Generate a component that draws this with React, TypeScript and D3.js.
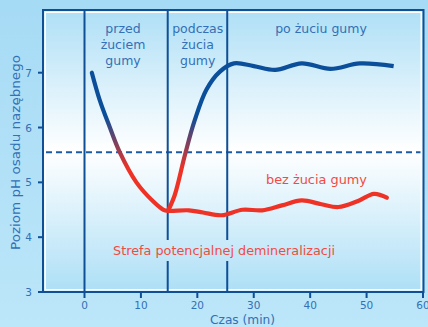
import React from 'react';
import * as d3 from 'd3';

const xTicks = [0, 10, 20, 30, 40, 50, 60];
const yTicks = [3, 4, 5, 6, 7];
const phaseLines = [0, 14.75, 25.3];
const criticalPH = 5.55;
const descentT = [1.3, 2.7, 4.5, 6.2, 9.2, 12.2, 14, 14.8];
const descentPH = [7.0, 6.5, 6.0, 5.56, 5.0, 4.65, 4.5, 4.48];
const noGumT = [18.5, 21, 24.3, 28, 31.5, 35, 38.5, 42, 45, 48.5, 51.3, 53.6];
const noGumPH = [4.49, 4.45, 4.4, 4.5, 4.49, 4.58, 4.67, 4.6, 4.55, 4.66, 4.79, 4.72];
const gumT = [14.8, 16, 17.8, 19.5, 21.6, 24, 26.5, 30, 33.8, 38.5, 43.6, 48.8, 54.8];
const gumPH = [4.48, 4.77, 5.5, 6.12, 6.69, 7.02, 7.17, 7.12, 7.05, 7.17, 7.07, 7.17, 7.12];
const phaseLabels = [["przed", "żuciem", "gumy"], ["podczas", "żucia", "gumy"], ["po żuciu gumy"]];
const noGumLabel = "bez żucia gumy";
const zoneLabel = "Strefa potencjalnej demineralizacji";
const xTitle = "Czas (min)";
const yTitle = "Poziom pH osadu nazębnego";

const W = 428, H = 327;
const L = 43, R = 423.5, T = 10, B = 292;
const FONT = "'DejaVu Sans', 'Noto Sans', sans-serif";
const BLUE = '#0e4f96';
const TXT = '#3370b5';
const RED = '#ee3226';
const RED_TXT = '#f24b40';

export default function App() {
  const x = d3.scaleLinear().domain([0, 60]).range([84.5, 423]);
  const y = d3.scaleLinear().domain([3, 7]).range([292, 72.7]);
  const line = d3.line<[number, number]>().x(d => x(d[0])).y(d => y(d[1])).curve(d3.curveCatmullRom.alpha(0.5));

  const redPts: [number, number][] = [
    ...descentT.map((t, i) => [t, descentPH[i]] as [number, number]),
    ...noGumT.map((t, i) => [t, noGumPH[i]] as [number, number]),
  ];
  const bluePts: [number, number][] = gumT.map((t, i) => [t, gumPH[i]]);

  const phaseCx = [123, 197.7, 321];

  return (
    <svg width={W} height={H} style={{ display: 'block', position: 'absolute', left: 0, top: 0 }}>
      <defs>
        <linearGradient id="outerBg" x1="0" y1="0" x2="0" y2="1">
          <stop offset="0" stopColor="#a6dbf5" />
          <stop offset="1" stopColor="#bce6f9" />
        </linearGradient>
        <linearGradient id="plotBg" gradientUnits="userSpaceOnUse" x1="0" y1={T} x2="0" y2={B}>
          <stop offset="0" stopColor="#aedff6" />
          <stop offset="0.5" stopColor="#ffffff" />
          <stop offset="1" stopColor="#addff6" />
        </linearGradient>
        <linearGradient id="curveGrad" gradientUnits="userSpaceOnUse" x1="0" y1={y(6.2)} x2="0" y2={y(5.25)}>
          <stop offset="0" stopColor="#0b4f9a" />
          <stop offset="1" stopColor={RED} />
        </linearGradient>
      </defs>
      <rect x={0} y={0} width={W} height={H} fill="url(#outerBg)" />
      <rect x={L} y={T} width={R - L} height={B - T} fill="url(#plotBg)" />
      <rect x={L + 2.2} y={T + 2.2} width={R - L - 4.4} height={B - T - 4.4} fill="none" stroke="#ffffff" strokeWidth={1.6} />

      <line x1={L + 3} x2={R - 3} y1={y(criticalPH)} y2={y(criticalPH)} stroke="#1a5ba3" strokeWidth={2} strokeDasharray="6,4" />

      {phaseLines.map((t, i) => (
        <line key={i} x1={x(t)} x2={x(t)} y1={T} y2={B} stroke={BLUE} strokeWidth={2} />
      ))}

      <rect x={110} y={240} width={228} height={21} fill="url(#plotBg)" />
      <text x={113} y={255} fontFamily={FONT} fontSize={12.5} fill={RED_TXT} textLength={222} lengthAdjust="spacingAndGlyphs">{zoneLabel}</text>

      <path d={line(redPts) || ''} fill="none" stroke="url(#curveGrad)" strokeWidth={4.2} strokeLinecap="round" />
      <path d={line(bluePts) || ''} fill="none" stroke="url(#curveGrad)" strokeWidth={4.2} strokeLinecap="butt" />

      {phaseLabels.map((lines, i) => (
        <text key={i} textAnchor="middle" fontFamily={FONT} fontSize={12.5} fill={TXT}>
          {lines.map((s, j) => (
            <tspan key={j} x={phaseCx[i]} y={33 + j * 16}>{s}</tspan>
          ))}
        </text>
      ))}
      <text x={266} y={184} fontFamily={FONT} fontSize={12.5} fill={RED_TXT} textLength={101} lengthAdjust="spacingAndGlyphs">{noGumLabel}</text>

      <rect x={L} y={T} width={R - L} height={B - T} fill="none" stroke={BLUE} strokeWidth={2} />

      {yTicks.map(v => (
        <g key={v}>
          <line x1={L - 5} x2={L} y1={y(v)} y2={y(v)} stroke={BLUE} strokeWidth={2} />
          <text x={L - 11} y={y(v) + 4} textAnchor="end" fontFamily={FONT} fontSize={10.5} fill={TXT}>{v}</text>
        </g>
      ))}
      {xTicks.map(v => (
        <g key={v}>
          <line x1={x(v)} x2={x(v)} y1={B} y2={B + 6} stroke={BLUE} strokeWidth={2} />
          <text x={x(v)} y={B + 17} textAnchor="middle" fontFamily={FONT} fontSize={10.5} fill={TXT}>{v}</text>
        </g>
      ))}
      <text x={210} y={324} fontFamily={FONT} fontSize={12.5} fill={TXT} textLength={65} lengthAdjust="spacingAndGlyphs">{xTitle}</text>
      <text transform={`translate(20,250) rotate(-90)`} fontFamily={FONT} fontSize={12.5} fill={TXT} textLength={195} lengthAdjust="spacingAndGlyphs">{yTitle}</text>
    </svg>
  );
}
